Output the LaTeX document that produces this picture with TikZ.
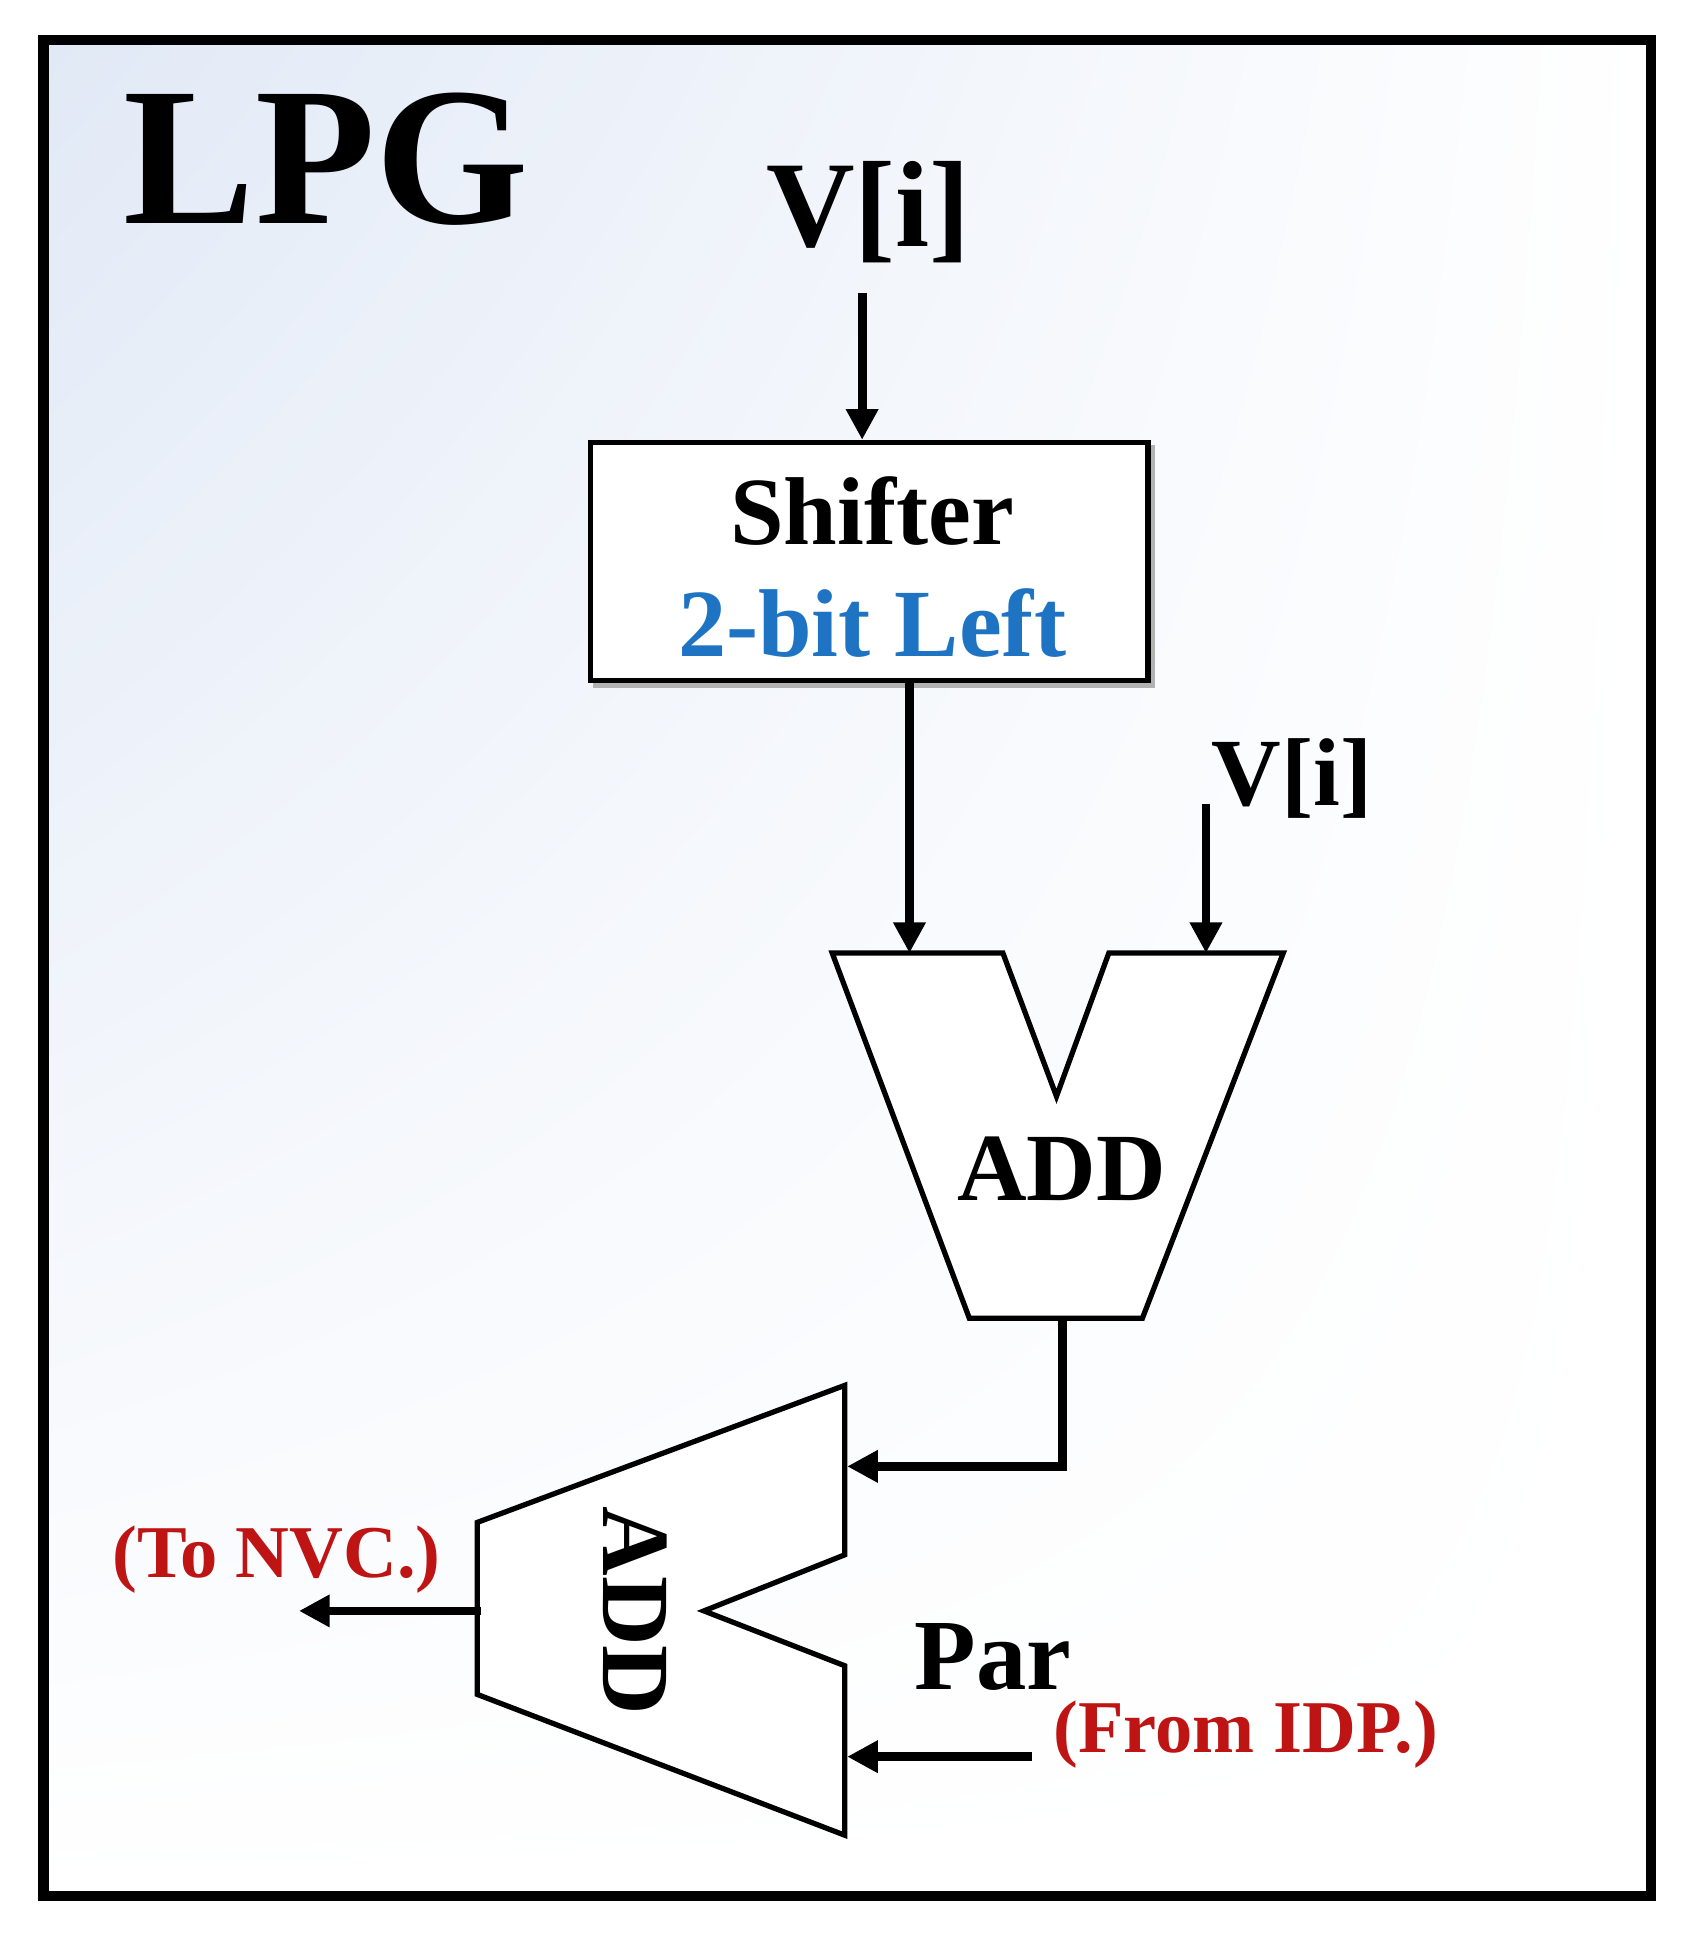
\documentclass[tikz,border=0pt]{standalone}
\usepackage{fontspec}
\setmainfont{Liberation Serif}
\usetikzlibrary{arrows.meta, positioning, calc, shadings}
\definecolor{bitblue}{RGB}{30,115,195}
\definecolor{ioRed}{RGB}{190,20,20}
\definecolor{skyTint}{RGB}{225,233,246}
\begin{document}
\begin{tikzpicture}[x=0.01cm, y=-0.01cm,
      wire/.style={line width=2pt, -{Triangle[length=7pt, width=7pt]}},
      adder/.style={draw, line width=1.2pt, fill=white},
      label/.style={font=\bfseries\fontsize{28}{30}\selectfont},
      addtext/.style={font=\bfseries\fontsize{22}{24}\selectfont},
      tag/.style={font=\bfseries\fontsize{17}{19}\selectfont, text=ioRed}
  ]
  \useasboundingbox (0,0) rectangle (1360,1566);
  % frame
  \shade[upper left=skyTint, upper right=white, lower left=white, lower right=white] (35,32) rectangle (1325,1522);
  \draw[line width=2.4pt] (35,32) rectangle (1325,1522);
  \node[font=\bfseries\fontsize{45}{47}\selectfont] (title) at (262,128) {LPG};

  % shifter
  \node[label] (vin) at (697,170) {V[i]};
  \fill[gray!60] (476,357) rectangle (927,552);
  \node[draw, line width=1.2pt, fill=white, inner sep=0pt,
        minimum width=4.47cm, minimum height=1.91cm, anchor=north west] (shift) at (472,353) {};
  \node[font=\bfseries\fontsize{22}{24}\selectfont] at (700,410) {Shifter};
  \node[font=\bfseries\fontsize{22}{24}\selectfont, text=bitblue] at (700,500) {2-bit Left};
  \coordinate (vinend) at (692,235);
  \draw[wire] (vinend) -- (vinend |- shift.north);

  % first adder
  \draw[adder] (668,765) -- (805,765) -- (848,880) -- (890,765) -- (1030,765)
      -- (917,1058) -- (778,1058) -- cycle;
  \node[addtext] (add1) at (852,938) {ADD};
  \node[font=\bfseries\fontsize{22}{24}\selectfont] (vin2) at (1037,625) {V[i]};
  \coordinate (a1in) at (730,765);
  \coordinate (a1inb) at (968,765);
  \coordinate (a1out) at (853,1058);
  \draw[wire] (shift.south -| a1in) -- (a1in);
  \draw[wire] (968,645) -- (a1inb);

  % second adder
  \draw[adder] (678,1112) -- (678,1248) -- (565,1293) -- (678,1337) -- (678,1473)
      -- (383,1360) -- (383,1222) -- cycle;
  \node[addtext, rotate=-90] (add2) at (510,1293) {ADD};
  \coordinate (a2ina) at (680,1177);
  \coordinate (a2inb) at (680,1410);
  \coordinate (a2out) at (386,1293);
  \coordinate (tonvc) at (240,1293);
  \draw[wire] (a1out) |- (a2ina);
  \draw[wire] (828,1410) -- (a2inb);
  \draw[wire] (a2out) -- (tonvc);
  \node[tag] (nvc) at (222,1252) {(To NVC.)};
  \node[font=\bfseries\fontsize{23}{25}\selectfont] (par) at (797,1330) {Par};
  \node[tag] (idp) at (1000,1392) {(From IDP.)};
\end{tikzpicture}
\end{document}
